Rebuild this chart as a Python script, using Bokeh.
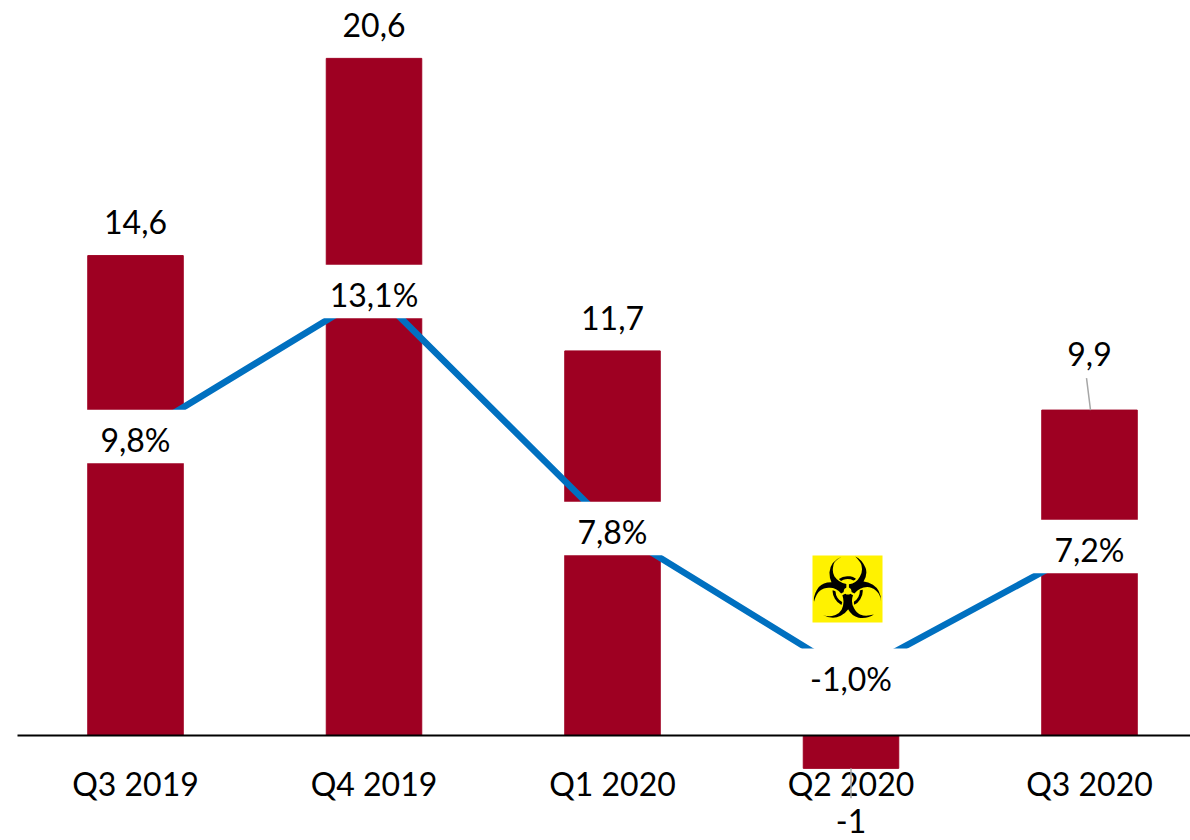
from bokeh.plotting import figure
from bokeh.models import ColumnDataSource, FixedTicker, Range1d
from bokeh.core.properties import value
from bokeh.embed import file_html
from bokeh.resources import INLINE

quarters = ["Q3 2019", "Q4 2019", "Q1 2020", "Q2 2020", "Q3 2020"]
bar_values = [14.6, 20.6, 11.7, -1.0, 9.9]
bar_labels = ["14,6", "20,6", "11,7", "-1", "9,9"]
pct_labels = ["9,8%", "13,1%", "7,8%", "-1,0%", "7,2%"]
# height of the line's points as drawn in the picture, on the bars' axis
line_heights = [9.10, 13.51, 6.30, 1.83, 5.75]

BAR = "#9E0022"
BLUE = "#0070C0"
FONT = "Lato"
SIZE = "32px"

W, H = 1190, 840
PX_X = 238.5
PX_Y = 32.87
x0 = 135
y0 = 735
xs = list(range(len(quarters)))

p = figure(width=W, height=H, output_backend="svg", toolbar_location=None,
           x_range=Range1d((0 - x0) / PX_X, (W - x0) / PX_X),
           y_range=Range1d((y0 - H) / PX_Y, y0 / PX_Y),
           min_border=0, outline_line_color=None, background_fill_color="white",
           border_fill_color="white")
p.grid.visible = False
p.yaxis.visible = False

ax = p.xaxis[0]
ax.fixed_location = 0
ax.ticker = FixedTicker(ticks=xs)
ax.major_label_overrides = dict(zip(xs, quarters))
ax.major_tick_line_color = None
ax.minor_tick_line_color = None
ax.axis_line_color = "black"
ax.axis_line_width = 2
ax.bounds = ((17 - x0) / PX_X, (1190 - x0) / PX_X)
ax.major_label_text_font = FONT
ax.major_label_text_font_size = SIZE
ax.major_label_text_color = "black"
ax.major_label_standoff = 22

p.vbar(x=xs, top=bar_values, bottom=0, width=95.5 / PX_X, color=BAR)
p.line(xs, line_heights, line_color=BLUE, line_width=6.5, line_join="round")

# white label boxes that interrupt the bars and the line
p.rect(x=xs, y=line_heights, width=120, width_units="screen", height=53.5, height_units="screen",
       fill_color="white", line_color=None)
p.text(x=xs, y=line_heights, y_offset=3, text=pct_labels, text_font=value(FONT), text_font_size=value(SIZE),
       text_color="black", text_align="center", text_baseline="middle")

# bar value labels
offsets = [-34, -33, -33, 53, -56]
src = ColumnDataSource(dict(x=xs, y=bar_values, t=bar_labels, o=offsets))
p.text(x="x", y="y", text="t", y_offset="o", source=src, text_font=value(FONT),
       text_font_size=value(SIZE), text_color="black", text_align="center", text_baseline="middle")

# leader lines
p.segment(x0=[3, 4 - 3 / PX_X], y0=[-1.0, 9.9 + 32 / PX_Y], x1=[3, 4 + 1 / PX_X], y1=[-1.0 - 30 / PX_Y, 9.9],
          line_color="#A6A6A6", line_width=1.5, level="overlay")

# biohazard icon
p.rect(x=[(847 - x0) / PX_X], y=[(y0 - 588.5) / PX_Y], width=[70], height=[67], width_units="screen",
       height_units="screen", fill_color="#FFF200", line_color=None)
p.text(x=[(847 - x0) / PX_X], y=[(y0 - 588.5) / PX_Y], text=["\u2623"], text_font=value("DejaVu Sans"),
       text_font_size=value("84px"), text_color="black", text_align="center", text_baseline="middle")

open("out.html", "w").write(file_html(p, INLINE))
